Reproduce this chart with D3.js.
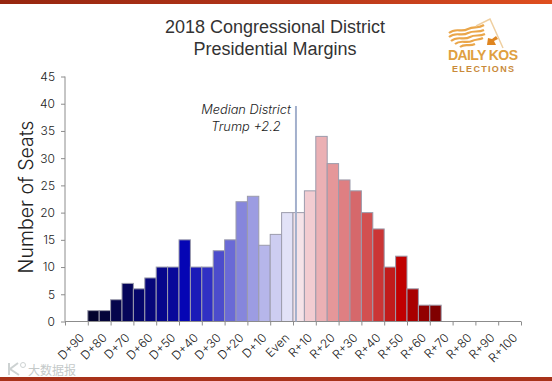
<!DOCTYPE html>
<html>
<head>
<meta charset="utf-8">
<script src="https://cdn.jsdelivr.net/npm/d3@7"></script>
<style>
  html, body { margin: 0; padding: 0; background: #fff; }
  svg { display: block; }
</style>
</head>
<body>
<div id="chart"></div>
<script>
// one label per 10 point band, bars per 5 point bin
const tickLabels = ['D+90', 'D+80', 'D+70', 'D+60', 'D+50', 'D+40', 'D+30', 'D+20', 'D+10', 'Even',
    'R+10', 'R+20', 'R+30', 'R+40', 'R+50', 'R+60', 'R+70', 'R+80', 'R+90', 'R+100'];
const binStarts = [-90, -85, -80, -75, -70, -65, -60, -55, -50, -45, -40, -35, -30, -25, -20, -15,
    -10, -5, 0, 5, 10, 15, 20, 25, 30, 35, 40, 45, 50, 55, 60];
const seats = [2, 2, 4, 7, 6, 8, 10, 10, 15, 10, 10, 13, 15, 22, 23, 14,
    16, 20, 20, 24, 34, 29, 26, 24, 20, 17, 10, 12, 6, 3, 3];
const binColors = ['#03032e', '#04043a', '#05054c', '#05055a', '#05066a', '#06067a', '#07078c', '#08089a',
    '#0505b4', '#1a1ab8', '#3030c4', '#4c4ccc', '#6a6ad6', '#8686dc', '#9c9ce2', '#b6b6ea',
    '#cdcdf1', '#e2e2f7', '#f5e3e8', '#f2ccd1', '#ebb0b4', '#e59799', '#df7f82', '#d6686b', '#d25050',
    '#cb3535', '#c11b1b', '#c00000', '#a80000', '#920000', '#800000'];
const yTicks = [0, 5, 10, 15, 20, 25, 30, 35, 40, 45];
const medianLine = 1.3;
const medianNote = ['Median District', 'Trump +2.2'];
const titleLines = ['2018 Congressional District', 'Presidential Margins'];

const width = 552;
const height = 381;
const margin = { top: 76.5, right: 31, bottom: 59.5, left: 65 };

const svg = d3.select('#chart')
    .append('svg')
    .attr('width', width)
    .attr('height', height)
    .attr('viewBox', `0 0 ${width} ${height}`);

const defs = svg.append('defs');
const grad = defs.append('linearGradient').attr('id', 'band');
grad.append('stop').attr('offset', '0%').attr('stop-color', '#96260f');
grad.append('stop').attr('offset', '55%').attr('stop-color', '#b5361a');
grad.append('stop').attr('offset', '100%').attr('stop-color', '#df4f1f');

svg.append('rect').attr('width', width).attr('height', 4).attr('fill', 'url(#band)');
svg.append('rect').attr('y', 377).attr('width', width).attr('height', 4).attr('fill', '#a8321a');

const x = d3.scaleLinear().domain([-100, 100]).range([margin.left, width - margin.right]);
const y = d3.scaleLinear().domain([0, 45]).range([height - margin.bottom, margin.top]);

const axisFont = "'Inter', 'Noto Sans', sans-serif";

// bars
svg.selectAll('rect.bar')
    .data(seats)
    .enter()
    .append('rect')
    .attr('class', 'bar')
    .attr('x', (d, i) => x(binStarts[i]))
    .attr('y', d => y(d))
    .attr('width', (d, i) => x(binStarts[i] + 5) - x(binStarts[i]))
    .attr('height', d => y(0) - y(d))
    .attr('fill', (d, i) => binColors[i])
    .attr('stroke', '#9c9cac')
    .attr('stroke-width', 1);

// axes
const yAxis = svg.append('g')
    .attr('transform', `translate(${margin.left},0)`)
    .call(d3.axisLeft(y).tickValues(yTicks).tickSize(4).tickPadding(6));

const xAxis = svg.append('g')
    .attr('transform', `translate(0,${y(0)})`)
    .call(d3.axisBottom(x).tickValues(d3.range(-100, 101, 10)).tickSize(4).tickFormat(''));

[yAxis, xAxis].forEach(a => {
    a.selectAll('path, line').attr('stroke', '#8c8c8c');
    a.selectAll('path').attr('d', a === yAxis
        ? `M0,${y(0)}V${y(45)}`
        : `M${x(-100)},0H${x(100)}`);
});

yAxis.selectAll('text')
    .attr('font-family', axisFont)
    .attr('font-weight', 300)
    .attr('font-size', 12)
    .attr('fill', '#222');

// labels sit inside the band left of each tick, turned 45 degrees
svg.append('g').selectAll('text')
    .data(tickLabels)
    .enter()
    .append('text')
    .attr('transform', (d, i) => `translate(${x(-100 + i * 10) + 20},${y(0) + 17}) rotate(-45)`)
    .attr('text-anchor', 'end')
    .attr('font-family', axisFont)
    .attr('font-weight', 300)
    .attr('font-size', 12)
    .attr('fill', '#222')
    .text(d => d);

// median marker
svg.append('line')
    .attr('x1', x(medianLine))
    .attr('x2', x(medianLine))
    .attr('y1', y(0))
    .attr('y2', 106)
    .attr('stroke', '#a3b0cc')
    .attr('stroke-width', 2);

svg.append('g').selectAll('text')
    .data(medianNote)
    .enter()
    .append('text')
    .attr('x', 246)
    .attr('y', (d, i) => 114 + i * 17)
    .attr('text-anchor', 'middle')
    .attr('font-family', axisFont)
    .attr('font-weight', 300)
    .attr('font-style', 'italic')
    .attr('font-size', 12.8)
    .attr('fill', '#222')
    .text(d => d);

// title
svg.append('g').selectAll('text')
    .data(titleLines)
    .enter()
    .append('text')
    .attr('x', 275)
    .attr('y', (d, i) => 33 + i * 22)
    .attr('text-anchor', 'middle')
    .attr('font-family', "'Liberation Sans', Arial, sans-serif")
    .attr('font-size', 18)
    .attr('fill', '#333')
    .text(d => d);

// y title
svg.append('text')
    .attr('transform', `translate(33,${(y(0) + y(45)) / 2 - 2}) rotate(-90)`)
    .attr('text-anchor', 'middle')
    .attr('font-family', axisFont)
    .attr('font-weight', 300)
    .attr('font-size', 19.5)
    .attr('fill', '#222')
    .text('Number of Seats');

// logo
const logo = svg.append('g');
const stripes = [
    'M449,33 C456,27 461,33 468,29 C474,26 478,29 484,25',
    'M449,37 C456,31 461,37 468,33 C474,30 478,33 484,30',
    'M451,41 C458,35 463,41 470,37 C475,34 479,37 485,34',
    'M455,44 C461,39 466,44 472,41 C476,39 479,40 483,38',
    'M460,47 C465,43 469,47 475,44'
];
logo.selectAll('path.stripe')
    .data(stripes)
    .enter()
    .append('path')
    .attr('class', 'stripe')
    .attr('d', d => d)
    .attr('fill', 'none')
    .attr('stroke', '#eaa64a')
    .attr('stroke-width', 2.2);
logo.append('path')
    .attr('d', 'M476,26 L490,19 L503,48')
    .attr('fill', 'none')
    .attr('stroke', '#efcfa0')
    .attr('stroke-width', 1.5);
logo.append('path')
    .attr('d', 'M487,45 L488,38 L492,39 L496,36 L498,39 L494,41 L496,45 Z')
    .attr('fill', '#df8520');
logo.append('text')
    .attr('x', 448).attr('y', 59.5)
    .attr('textLength', 70)
    .attr('lengthAdjust', 'spacing')
    .attr('font-family', "'Liberation Sans Narrow', 'Liberation Sans', sans-serif")
    .attr('font-weight', 'bold')
    .attr('font-size', 14)
    .attr('fill', '#e0a040')
    .text('DAILY KOS');
logo.append('text')
    .attr('x', 452).attr('y', 72)
    .attr('textLength', 62)
    .attr('lengthAdjust', 'spacing')
    .attr('font-family', "'Liberation Sans', sans-serif")
    .attr('font-weight', 'bold')
    .attr('font-size', 9)
    .attr('fill', '#c98a3a')
    .text('ELECTIONS');

// watermark
svg.append('text')
    .attr('x', 28).attr('y', 374.5)
    .attr('font-family', "'Noto Sans CJK SC', sans-serif")
    .attr('font-size', 12)
    .attr('fill', '#c4c9c9')
    .text('大数据报');
svg.append('path')
    .attr('d', 'M9,363 V375 M18,363 L10,369 L19,375')
    .attr('fill', 'none').attr('stroke', '#cdd2d2').attr('stroke-width', 2);
svg.append('circle')
    .attr('cx', 23).attr('cy', 365).attr('r', 2.5)
    .attr('fill', 'none').attr('stroke', '#cdd2d2').attr('stroke-width', 1);
</script>
</body>
</html>
